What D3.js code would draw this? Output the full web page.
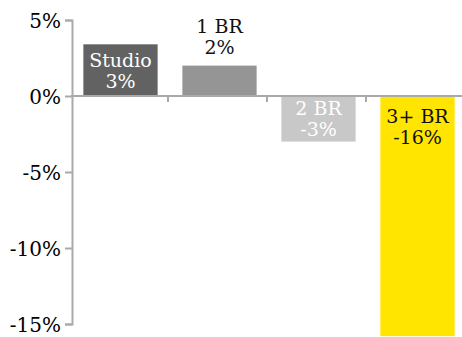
<!DOCTYPE html>
<html>
<head>
<meta charset="utf-8">
<script src="https://cdn.jsdelivr.net/npm/d3@7"></script>
<style>
  body { margin: 0; background: #fff; }
  svg { display: block; }
  text { font-family: "DejaVu Serif", Georgia, serif; }
</style>
</head>
<body>
<div id="chart"></div>
<script>
// data
const categories = ["Studio", "1 BR", "2 BR", "3+ BR"];
const values = [3.4, 2.0, -3.0, -15.8];
const valueLabels = ["3%", "2%", "-3%", "-16%"];
const barColors = ["#626262", "#959595", "#c8c8c8", "#ffe500"];
const labelColors = ["#fff", "#111", "#fff", "#111"];
const yTicks = [5, 0, -5, -10, -15];

const width = 462, height = 337;
const margin = { top: 20, right: -5, bottom: 13, left: 71 };

const svg = d3.select("#chart")
    .append("svg")
    .attr("width", width)
    .attr("height", height);

const x = d3.scaleBand()
    .domain(categories)
    .range([margin.left, width - margin.right])
    .paddingInner(0.25)
    .paddingOuter(0.125);

const y = d3.scaleLinear()
    .domain([-15, 5])
    .range([height - margin.bottom, margin.top]);

const rows = categories.map((c, i) => ({
    cat: c, value: values[i], label: valueLabels[i],
    color: barColors[i], textColor: labelColors[i]
}));

// bars
svg.append("g")
    .selectAll("rect")
    .data(rows)
    .join("rect")
    .attr("x", d => x(d.cat))
    .attr("width", x.bandwidth())
    .attr("y", d => y(Math.max(0, d.value)))
    .attr("height", d => Math.abs(y(d.value) - y(0)))
    .attr("fill", d => d.color);

// y axis
const yAxis = svg.append("g")
    .attr("transform", `translate(${margin.left + 1},0)`)
    .call(d3.axisLeft(y).tickValues(yTicks).tickFormat(d => d + "%").tickSize(7).tickPadding(4));
yAxis.select(".domain").attr("stroke", "#aaa").attr("stroke-width", 2);
yAxis.selectAll(".tick line").attr("stroke", "#aaa").attr("stroke-width", 2);
yAxis.selectAll(".tick text")
    .attr("fill", "#000")
    .style("font-size", "20px")
    .style("font-family", "'DejaVu Serif', serif")
    .attr("dy", "0.38em");

// zero line with ticks between the bars
const zero = svg.append("g");
zero.append("line")
    .attr("x1", margin.left)
    .attr("x2", width)
    .attr("y1", y(0))
    .attr("y2", y(0))
    .attr("stroke", "#aaa")
    .attr("stroke-width", 2);
const gap = x.step() * x.paddingInner();
zero.selectAll(".sep")
    .data(categories.slice(0, -1))
    .join("line")
    .attr("class", "sep")
    .attr("x1", d => x(d) + x.bandwidth() + gap / 2 - 2)
    .attr("x2", d => x(d) + x.bandwidth() + gap / 2 - 2)
    .attr("y1", y(0))
    .attr("y2", y(0) + 6)
    .attr("stroke", "#aaa")
    .attr("stroke-width", 2);

// bar labels: above the bar if too short, centred if it fits, near the top if long
const lineH = 21;
const labels = svg.append("g")
    .selectAll("text")
    .data(rows)
    .join("text")
    .attr("text-anchor", "middle")
    .attr("fill", d => d.textColor)
    .style("font-size", "19px")
    .attr("transform", d => {
        const h = Math.abs(y(d.value) - y(0));
        const cx = x(d.cat) + x.bandwidth() / 2;
        let base;
        if (h < 40) {
            base = y(d.value) - 33;
        } else if (h < 80) {
            const mid = (y(d.value) + y(0)) / 2;
            base = mid - lineH / 2 + 7;
        } else {
            base = y(0) + 27;
        }
        return `translate(${cx},${base})`;
    });
labels.append("tspan").attr("x", 0).attr("y", 0).text(d => d.cat);
labels.append("tspan").attr("x", 0).attr("y", lineH).text(d => d.label);
</script>
</body>
</html>
